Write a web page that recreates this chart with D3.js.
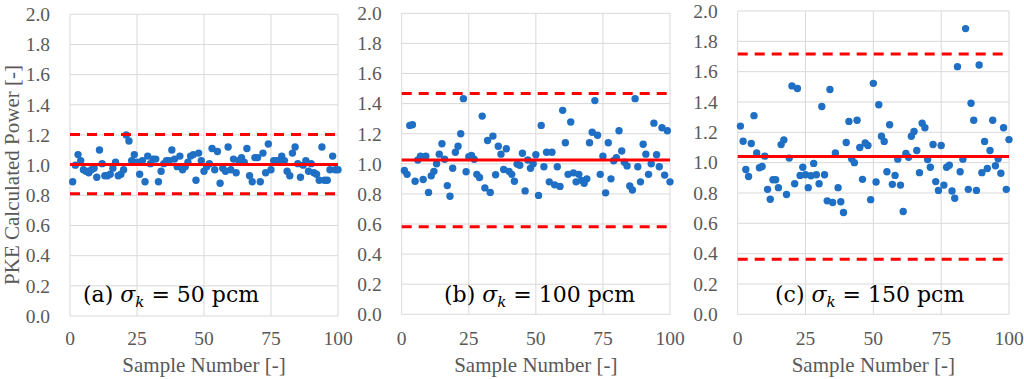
<!DOCTYPE html>
<html>
<head>
<meta charset="utf-8">
<script src="https://cdn.jsdelivr.net/npm/d3@7/dist/d3.min.js"></script>
<style>
    body { margin: 0; background: #fff; }
    svg text { font-family: "Liberation Serif", "Times New Roman", serif; }
</style>
</head>
<body>
<svg id="chart" width="1024" height="379"></svg>
<script>

// PKE calculated power per sample
const powerA = [
    0.89, 1.00, 1.07, 1.03, 0.97, 0.96, 0.95, 0.97, 0.98, 0.92,
    1.10, 1.01, 0.93, 0.93, 0.94, 0.98, 1.02, 0.93, 0.94, 0.97,
    1.20, 1.16, 1.03, 1.07, 1.02, 0.94, 1.03, 0.89, 1.06, 1.01,
    1.04, 1.04, 0.89, 0.96, 1.01, 1.03, 1.03, 1.10, 1.04, 0.99,
    1.06, 0.97, 0.99, 1.02, 1.06, 1.07, 0.90, 1.08, 1.03, 0.96,
    0.99, 1.01, 1.11, 0.97, 1.09, 0.88, 0.98, 0.96, 1.12, 0.97,
    1.04, 0.95, 1.03, 1.05, 1.02, 1.11, 0.93, 0.89, 1.05, 1.05,
    0.89, 1.08, 0.95, 1.14, 0.97, 1.03, 1.03, 1.03, 1.06, 1.03,
    0.96, 0.93, 1.08, 1.12, 1.01, 0.92, 1.00, 1.03, 0.96, 1.01,
    0.95, 0.94, 0.90, 1.12, 0.90, 0.90, 0.97, 1.06, 0.97, 0.97
]

const powerB = [
    0.955, 0.93, 1.255, 1.26, 0.884, 1.025, 1.05, 0.896, 1.05, 0.81,
    0.92, 0.95, 1.00, 1.064, 1.133, 1.03, 0.855, 0.784, 0.97, 1.077,
    1.117, 1.20, 1.433, 0.947, 1.047, 1.055, 1.03, 0.93, 0.909, 1.317,
    0.84, 1.155, 0.81, 1.184, 0.927, 1.117, 1.064, 0.962, 1.10, 0.95,
    0.93, 0.884, 0.998, 0.99, 1.07, 0.82, 1.025, 0.97, 1.00, 1.06,
    0.79, 1.255, 0.98, 1.077, 0.88, 1.077, 0.86, 0.98, 0.85, 1.355,
    1.14, 0.93, 1.278, 0.94, 0.88, 0.93, 0.89, 0.87, 0.90, 1.14,
    1.21, 1.42, 1.19, 0.93, 1.05, 0.807, 1.14, 0.90, 1.02, 1.04,
    1.22, 1.085, 1.01, 0.986, 0.853, 0.826, 1.433, 0.98, 0.88, 1.13,
    1.064, 0.93, 1.00, 1.27, 1.06, 0.98, 1.24, 0.925, 1.22, 0.88
]

const powerC = [
    1.241, 1.141, 0.955, 0.909, 1.126, 1.31, 1.064, 0.966, 0.975, 1.043,
    0.824, 0.759, 0.887, 0.887, 0.835, 1.119, 1.15, 0.79, 1.03, 1.506,
    0.861, 1.489, 0.916, 0.97, 0.92, 0.835, 0.914, 0.995, 0.92, 0.861,
    1.37, 0.92, 0.748, 1.482, 0.737, 1.064, 0.835, 0.742, 0.671, 1.133,
    1.272, 1.025, 1.00, 1.28, 1.10, 0.89, 1.13, 1.113, 0.756, 1.523,
    0.872, 1.382, 1.174, 1.14, 0.94, 1.25, 0.857, 0.916, 1.023, 0.852,
    0.678, 1.06, 1.036, 1.174, 1.206, 1.08, 0.934, 1.26, 1.23, 1.02,
    0.97, 1.12, 0.875, 0.817, 1.113, 0.852, 0.97, 0.983, 0.813, 0.765,
    1.633, 0.94, 1.023, 1.884, 0.824, 1.392, 1.28, 0.817, 1.644, 0.934,
    1.14, 0.961, 1.08, 1.28, 0.98, 1.025, 0.93, 1.23, 0.824, 1.152
]

// mean and +/- bounds (red lines)
const meanLines = [1.005, 1.025, 1.04]
const upperLines = [1.203, 1.467, 1.716]
const lowerLines = [0.81, 0.581, 0.363]

const panelTags = ["(a)", "(b)", "(c)"]
const sigmaValues = ["50", "100", "150"]

const xTicks = [0, 25, 50, 75, 100]
const yTicks = [0, 0.2, 0.4, 0.6, 0.8, 1.0, 1.2, 1.4, 1.6, 1.8, 2.0]


const svg = d3.select("#chart")

// plot areas in pixels
const layout = [
    { left: 70, right: 338, top: 14.3, bottom: 316, noteX: 83 },
    { left: 401.7, right: 670, top: 13.3, bottom: 314.3, noteX: 444 },
    { left: 737.7, right: 1009, top: 11, bottom: 314.3, noteX: 775 }
]

const allPower = [powerA, powerB, powerC]

const grey = "#595959"
const gridColor = "#d9d9d9"
const dotColor = "#1f6fc4"

function drawPanel(i) {

    const box = layout[i]
    const values = allPower[i]
    const data = values.map((v, j) => ({ sample: j + 1, power: v }))

    const x = d3.scaleLinear()
        .domain([0, 100])
        .range([box.left, box.right])

    const y = d3.scaleLinear()
        .domain([0, 2])
        .range([box.bottom, box.top])

    const g = svg.append("g")

    // grid
    g.append("g")
        .selectAll("line")
        .data(yTicks)
        .join("line")
        .attr("x1", box.left)
        .attr("x2", box.right)
        .attr("y1", d => y(d))
        .attr("y2", d => y(d))
        .attr("stroke", gridColor)
        .attr("stroke-width", 1)

    g.append("g")
        .selectAll("line")
        .data(xTicks)
        .join("line")
        .attr("x1", d => x(d))
        .attr("x2", d => x(d))
        .attr("y1", box.top)
        .attr("y2", box.bottom)
        .attr("stroke", gridColor)
        .attr("stroke-width", 1)

    // tick labels
    g.append("g")
        .selectAll("text")
        .data(yTicks)
        .join("text")
        .attr("x", box.left - 20)
        .attr("y", d => y(d))
        .attr("dy", "0.35em")
        .attr("text-anchor", "end")
        .attr("fill", grey)
        .style("font-size", "19.5px")
        .text(d => d3.format(".1f")(d))

    g.append("g")
        .selectAll("text")
        .data(xTicks)
        .join("text")
        .attr("x", d => x(d))
        .attr("y", 344.5)
        .attr("text-anchor", "middle")
        .attr("fill", grey)
        .style("font-size", "19.5px")
        .text(d => d)

    g.append("text")
        .attr("x", (box.left + box.right) / 2)
        .attr("y", 372)
        .attr("text-anchor", "middle")
        .attr("fill", grey)
        .style("font-size", "21px")
        .text("Sample Number [-]")

    // scatter
    g.append("g")
        .selectAll("circle")
        .data(data)
        .join("circle")
        .attr("cx", d => x(d.sample))
        .attr("cy", d => y(d.power))
        .attr("r", 3.7)
        .attr("fill", dotColor)

    // red lines
    const redLines = [
        { v: meanLines[i], dash: null },
        { v: upperLines[i], dash: "10,7" },
        { v: lowerLines[i], dash: "10,7" }
    ]

    g.append("g")
        .selectAll("line")
        .data(redLines)
        .join("line")
        .attr("x1", x(0))
        .attr("x2", x(100))
        .attr("y1", d => y(d.v))
        .attr("y2", d => y(d.v))
        .attr("stroke", "#ff0000")
        .attr("stroke-width", 3)
        .attr("stroke-dasharray", d => d.dash)

    // panel note: (a) sigma_k = 50 pcm
    const note = g.append("text")
        .attr("x", box.noteX)
        .attr("y", 302)
        .attr("fill", "#000")
        .style("font-family", "'DejaVu Serif', serif")
        .style("font-size", "22px")
        .attr("xml:space", "preserve")

    note.append("tspan").text(panelTags[i] + " ")
    note.append("tspan").style("font-style", "italic").text("σ")
    note.append("tspan")
        .style("font-style", "italic")
        .style("font-size", "15px")
        .attr("dy", 5)
        .text("k")
    note.append("tspan")
        .attr("dy", -5)
        .text(" = " + sigmaValues[i] + " pcm")
}

drawPanel(0)
drawPanel(1)
drawPanel(2)

// y axis title
svg.append("text")
    .attr("transform", "translate(19,175) rotate(-90)")
    .attr("text-anchor", "middle")
    .attr("fill", grey)
    .style("font-size", "21px")
    .text("PKE Calculated Power [-]")

</script>
</body>
</html>
